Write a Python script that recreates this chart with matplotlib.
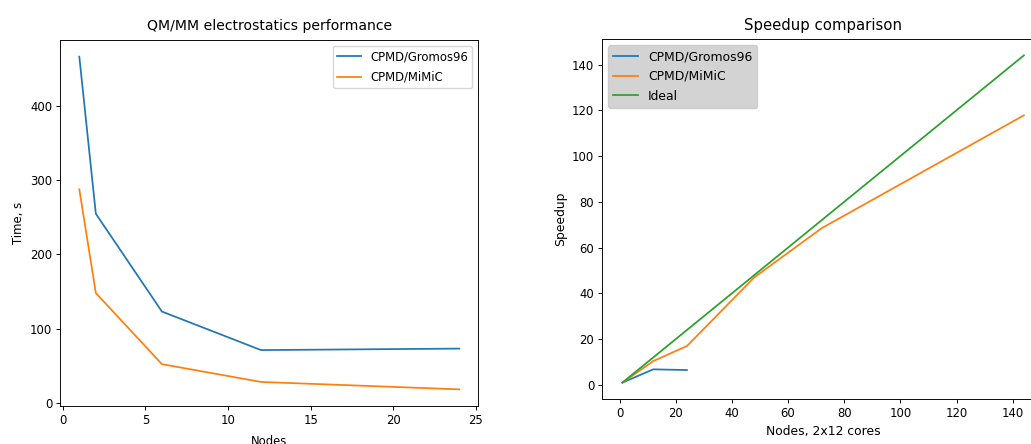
import numpy as np
import matplotlib
matplotlib.use("Agg")
import matplotlib.pyplot as plt

# Timings, QM/MM electrostatics
nodes = [1, 2, 6, 12, 24]
time_gromos = [467, 255, 123, 71, 73]
time_mimic = [288, 148, 52, 28, 18]

# Speedup
sp_nodes_gromos = [1, 12, 24]
speedup_gromos = [1, 6.8, 6.5]
sp_nodes_mimic = [1, 12, 24, 48, 72, 144]
speedup_mimic = [1, 10.4, 17, 47, 68.5, 117.8]
ideal_nodes = [1, 144]
ideal_speedup = [1, 144]

# original looks like it was saved at a lower dpi and scaled up
s = 0.84
plt.rcParams.update({
    "font.size": 10 * s,
    "axes.titlesize": 12 * s,
    "lines.linewidth": 1.5 * s,
    "axes.linewidth": 0.8 * s,
    "xtick.major.size": 3.5 * s,
    "ytick.major.size": 3.5 * s,
    "xtick.major.width": 0.8 * s,
    "ytick.major.width": 0.8 * s,
    "xtick.major.pad": 3.5 * s,
    "ytick.major.pad": 3.5 * s,
    "axes.labelpad": 4 * s,
    "axes.titlepad": 7.2,
})

fig = plt.figure(figsize=(10.31, 4.44), dpi=100)

ax1 = fig.add_axes([0.0585, 0.0856, 0.4054, 0.8243])
ax1.plot(nodes, time_gromos, label="CPMD/Gromos96")
ax1.plot(nodes, time_mimic, label="CPMD/MiMiC")
ax1.set_title("QM/MM electrostatics performance")
ax1.set_xlabel("Nodes", labelpad=5.5)
ax1.set_ylabel("Time, s")
ax1.set_yticks([0, 100, 200, 300, 400])
ax1.legend(loc="upper right", labelspacing=0.62)

# right panel runs past the edge of the figure, as in the original
# (its text is a touch bigger in the reference)
s2 = 0.89
ax2 = fig.add_axes([0.5842, 0.1014, 0.4284, 0.8108])
ax2.plot(sp_nodes_gromos, speedup_gromos, label="CPMD/Gromos96")
ax2.plot(sp_nodes_mimic, speedup_mimic, label="CPMD/MiMiC")
ax2.plot(ideal_nodes, ideal_speedup, label="Ideal")
ax2.set_title("Speedup comparison", fontsize=12 * s2, pad=6.5)
ax2.set_xlabel("Nodes, 2x12 cores", fontsize=10 * s2)
ax2.set_ylabel("Speedup", fontsize=10 * s2)
ax2.set_xticks(np.arange(0, 141, 20))
ax2.set_yticks(np.arange(0, 141, 20))
ax2.legend(loc="upper left", facecolor="lightgray", framealpha=1,
           fontsize=10 * s2, labelspacing=0.55)

fig.savefig("out.png", dpi=100)
